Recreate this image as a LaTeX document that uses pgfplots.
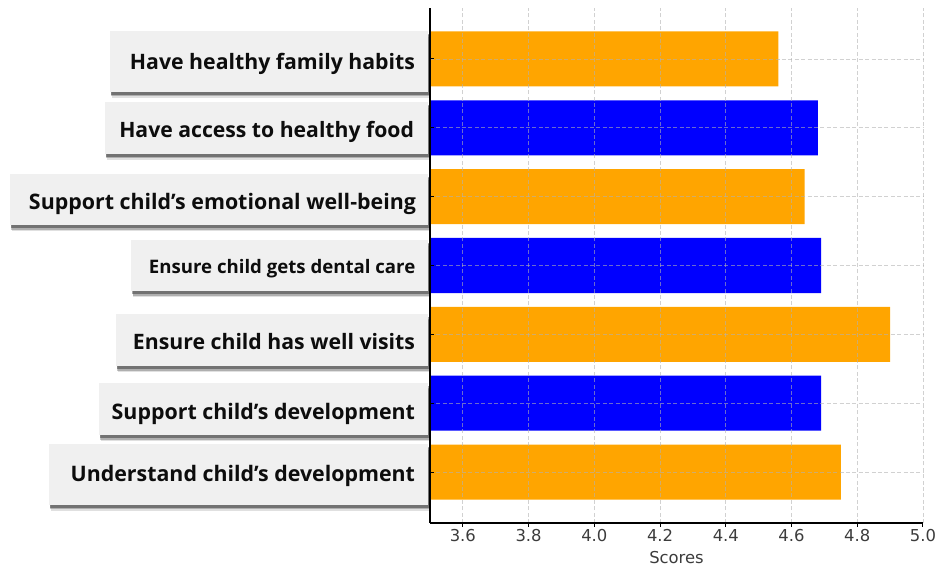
\documentclass[border=0pt]{standalone}
\usepackage{pgfplots}
\pgfplotsset{compat=1.18}
\usepackage{fontspec}
\setmainfont{DejaVu Sans}
\newfontfamily\labelfont{Open Sans}
\usetikzlibrary{shadows}
\definecolor{barorange}{RGB}{255,165,0}
\definecolor{barblue}{RGB}{0,0,255}
\definecolor{boxgray}{RGB}{240,240,240}
\definecolor{ticktext}{RGB}{60,60,60}
% #1 box width, #2 text width, #3 right pad, #4 height, #5 depth, #6 text
\newcommand{\lbl}[6]{\makebox[#1][r]{\rule[-#5]{0pt}{\dimexpr#4+#5\relax}\resizebox{#2}{!}{\labelfont\bfseries #6}\hspace*{#3}}}
\begin{document}
\begin{tikzpicture}
\begin{axis}[
  name=ax,
  scale only axis,
  width=246.5pt, height=257.5pt,
  xmin=3.5, xmax=5.0, ymin=-0.74, ymax=6.74,
  axis x line*=bottom, axis y line*=left,
  axis line style={line width=0.6pt, -},
  xtick={3.6,3.8,4.0,4.2,4.4,4.6,4.8,5.0},
  ytick={0,1,2,3,4,5,6},
  tick align=outside, major tick length=2pt,
  tick style={black, line width=0.5pt},
  ytick style={xshift=2pt},
  /pgf/number format/assume math mode=true,
  xticklabel style={/pgf/number format/fixed, /pgf/number format/fixed zerofill, /pgf/number format/precision=1, font=\fontsize{8.2}{10}\selectfont, text=ticktext, yshift=2.5pt},
  xlabel={Scores},
  xlabel style={font=\fontsize{8.2}{10}\selectfont, text=ticktext, yshift=2pt},
  grid=major,
  major grid style={gray!60, opacity=0.6, line width=0.4pt, dash pattern=on 2pt off 1.2pt},
  axis on top,
  yticklabels={
    {\lbl{189.5pt}{172.15pt}{6.5pt}{18.85pt}{11.5pt}{Understand child’s development}},
    {\lbl{164.5pt}{151.65pt}{6.5pt}{18pt}{8pt}{Support child’s development}},
    {\lbl{156pt}{141pt}{6.5pt}{17.5pt}{8.5pt}{Ensure child has well visits}},
    {\lbl{148.35pt}{133.15pt}{6.35pt}{17pt}{8.7pt}{Ensure child gets dental care}},
    {\lbl{209pt}{193.5pt}{6pt}{18pt}{7.7pt}{Support child’s emotional well-being}},
    {\lbl{161.5pt}{147.35pt}{7pt}{17.65pt}{8.35pt}{Have access to healthy food}},
    {\lbl{159pt}{142.5pt}{6.5pt}{19.5pt}{11pt}{Have healthy family habits}}
  },
  yticklabel style={anchor=east, inner sep=0pt, fill=boxgray, text=black!95, xshift=1.2pt,
    yshift={-1pt*{1.1,3,2.85,0,1.35,0,1.2}[\ticknum]},
    drop shadow={shadow xshift=0.9pt, shadow yshift=-3pt, fill=black, opacity=0.12},
    drop shadow={shadow xshift=0.7pt, shadow yshift=-2.3pt, fill=black, opacity=0.22},
    drop shadow={shadow xshift=0.5pt, shadow yshift=-1.5pt, fill=black, opacity=0.35}},
  xbar, bar shift=0pt, bar width=0.8,
]
\addplot[fill=barorange, draw=none] coordinates {(4.75,0) (4.90,2) (4.64,4) (4.56,6)};
\addplot[fill=barblue, draw=none] coordinates {(4.69,1) (4.69,3) (4.68,5)};
\end{axis}
\pgfresetboundingbox
\path[use as bounding box] ([shift={(-215pt,-22pt)}]ax.south west) rectangle ([shift={(7.5pt,4pt)}]ax.north east);
\end{tikzpicture}
\end{document}
